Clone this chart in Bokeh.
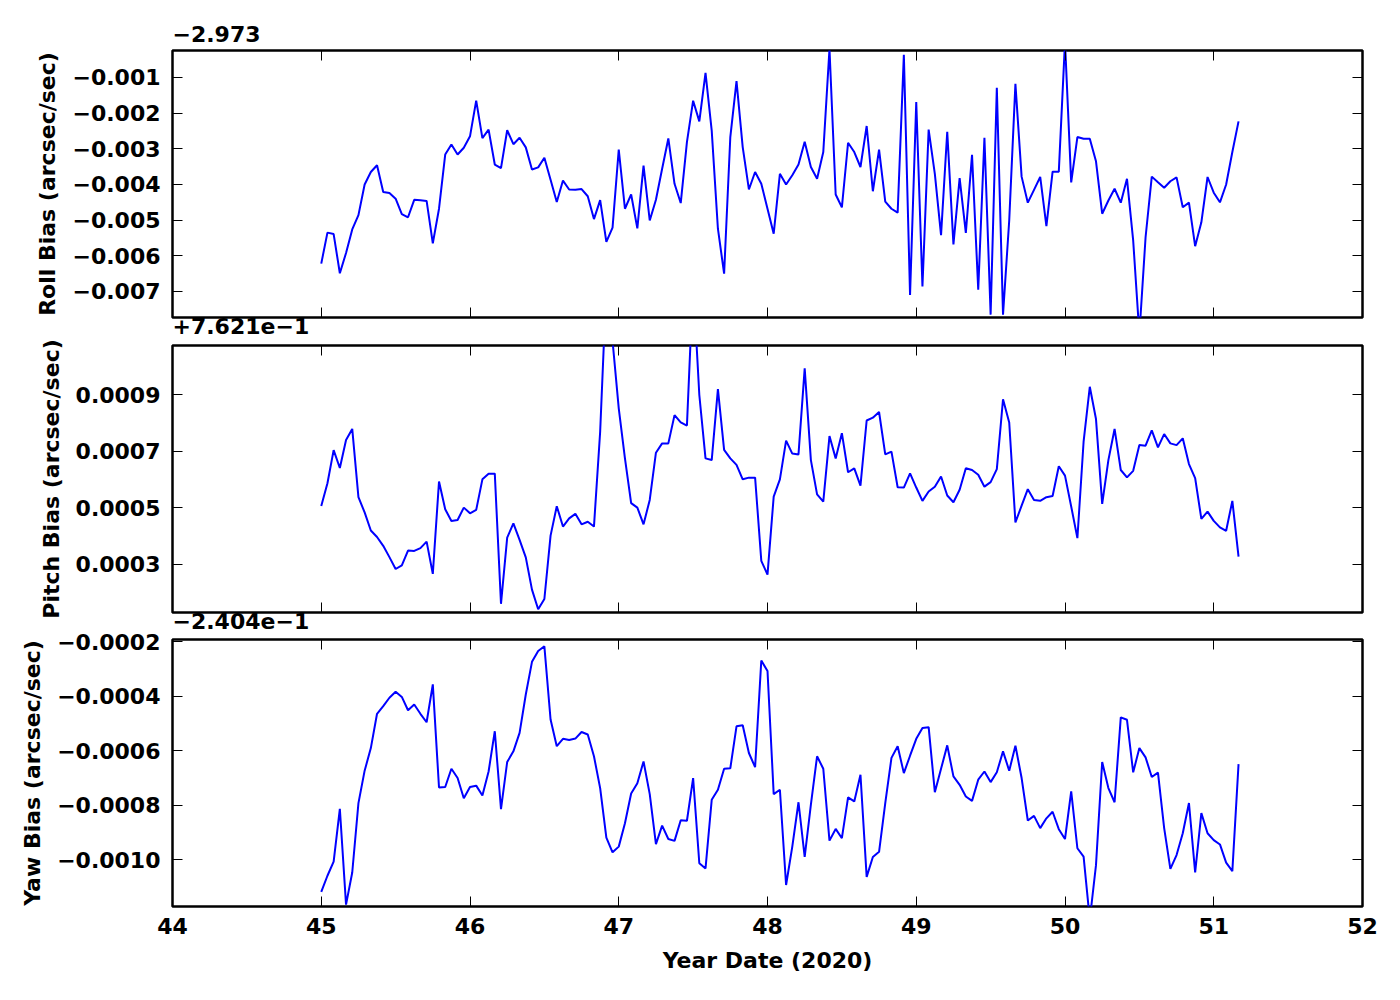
import numpy as np
from bokeh.plotting import figure
from bokeh.layouts import column
from bokeh.models import Range1d, FixedTicker, LinearAxis, CustomJSTickFormatter, Title
from bokeh.embed import file_html
from bokeh.resources import INLINE

# ---------------- data (hourly samples, values shown relative to the axis offsets) ----------------
start_day = 45.0
roll_offset_text = "\u22122.973"
pitch_offset_text = "+7.621e\u22121"
yaw_offset_text = "\u22122.404e\u22121"

# Roll bias minus offset, in units of 1e-3 arcsec/sec
roll_bias_e3 = [
    -6.22, -5.35, -5.39, -6.49, -5.92, -5.26, -4.86, -4.00, -3.65, -3.46,
    -4.21, -4.24, -4.40, -4.83, -4.92, -4.43, -4.44, -4.46, -5.65, -4.68,
    -3.16, -2.88, -3.16, -2.97, -2.65, -1.65, -2.70, -2.46, -3.44, -3.54,
    -2.48, -2.87, -2.69, -2.96, -3.58, -3.52, -3.25, -3.87, -4.49, -3.89,
    -4.14, -4.15, -4.13, -4.33, -4.97, -4.44, -5.61, -5.21, -3.02, -4.68,
    -4.28, -5.23, -3.47, -5.01, -4.43, -3.56, -2.71, -3.98, -4.52, -2.81,
    -1.65, -2.23, -0.87, -2.49, -5.24, -6.50, -2.67, -1.10, -2.95, -4.14,
    -3.65, -3.98, -4.68, -5.38, -3.70, -4.00, -3.74, -3.44, -2.80, -3.51,
    -3.84, -3.09, -0.20, -4.28, -4.64, -2.83, -3.09, -3.51, -2.36, -4.19,
    -3.02, -4.48, -4.68, -4.79, -0.36, -7.10, -1.69, -6.86, -2.46, -3.70,
    -5.42, -2.52, -5.68, -3.82, -5.36, -3.17, -6.95, -2.69, -7.65, -1.29,
    -7.65, -5.01, -1.18, -3.78, -4.51, -4.15, -3.79, -5.17, -3.64, -3.64,
    0.00, -3.94, -2.67, -2.72, -2.72, -3.35, -4.82, -4.45, -4.12, -4.51,
    -3.84, -5.57, -8.20, -5.48, -3.78, -3.94, -4.09, -3.91, -3.80, -4.64,
    -4.51, -5.73, -5.06, -3.79, -4.23, -4.50, -4.00, -3.09, -2.23,
]

# Pitch bias minus offset, in units of 1e-4 arcsec/sec
pitch_bias_e4 = [
    5.07, 5.87, 7.04, 6.41, 7.40, 7.79, 5.38, 4.84, 4.20, 3.97,
    3.66, 3.26, 2.84, 2.97, 3.49, 3.48, 3.58, 3.81, 2.67, 5.93,
    4.95, 4.54, 4.57, 5.01, 4.81, 4.93, 6.01, 6.21, 6.21, 1.61,
    3.95, 4.45, 3.87, 3.25, 2.11, 1.42, 1.78, 4.02, 5.06, 4.34,
    4.63, 4.79, 4.42, 4.51, 4.34, 7.69, 12.9, 10.9, 8.52, 6.75,
    5.17, 5.01, 4.42, 5.28, 6.95, 7.28, 7.28, 8.28, 8.02, 7.91,
    13.0, 8.99, 6.75, 6.69, 9.20, 7.05, 6.75, 6.52, 6.01, 6.07,
    6.07, 3.13, 2.64, 5.40, 6.01, 7.38, 6.92, 6.89, 9.93, 6.69,
    5.48, 5.22, 7.54, 6.75, 7.64, 6.26, 6.40, 5.79, 8.09, 8.19,
    8.39, 6.89, 6.99, 5.73, 5.72, 6.22, 5.72, 5.25, 5.58, 5.75,
    6.11, 5.44, 5.20, 5.64, 6.40, 6.34, 6.17, 5.75, 5.91, 6.37,
    8.84, 8.02, 4.49, 5.08, 5.66, 5.28, 5.25, 5.38, 5.42, 6.47,
    6.14, 5.05, 3.93, 7.34, 9.28, 8.14, 5.14, 6.69, 7.79, 6.34,
    6.08, 6.31, 7.22, 7.20, 7.74, 7.14, 7.61, 7.28, 7.22, 7.46,
    6.55, 6.05, 4.61, 4.87, 4.54, 4.31, 4.19, 5.25, 3.28,
]

# Yaw bias minus offset, in units of 1e-4 arcsec/sec
yaw_bias_e4 = [
    -11.18, -10.59, -10.07, -8.13, -11.65, -10.47, -7.92, -6.73, -5.90, -4.64,
    -4.36, -4.05, -3.83, -4.02, -4.51, -4.30, -4.64, -4.95, -3.56, -7.35,
    -7.33, -6.66, -7.00, -7.74, -7.33, -7.28, -7.64, -6.76, -5.28, -8.14,
    -6.41, -6.02, -5.34, -3.93, -2.73, -2.33, -2.16, -4.85, -5.83, -5.56,
    -5.60, -5.55, -5.31, -5.40, -6.20, -7.37, -9.19, -9.73, -9.52, -8.66,
    -7.57, -7.19, -6.39, -7.59, -9.43, -8.75, -9.24, -9.31, -8.55, -8.57,
    -7.00, -10.13, -10.32, -7.80, -7.43, -6.66, -6.64, -5.10, -5.06, -6.08,
    -6.60, -2.68, -3.07, -7.59, -7.43, -10.93, -9.52, -7.89, -9.90, -7.98,
    -6.20, -6.66, -9.30, -8.87, -9.21, -7.71, -7.86, -6.88, -10.63, -9.90,
    -9.71, -7.92, -6.26, -5.83, -6.82, -6.18, -5.56, -5.16, -5.13, -7.52,
    -6.66, -5.80, -6.94, -7.25, -7.68, -7.84, -7.06, -6.76, -7.15, -6.79,
    -6.02, -6.73, -5.81, -7.00, -8.56, -8.39, -8.84, -8.48, -8.24, -8.88,
    -9.24, -7.49, -9.58, -9.89, -12.20, -10.20, -6.41, -7.37, -7.89, -4.77,
    -4.86, -6.79, -5.90, -6.24, -6.96, -6.80, -8.84, -10.34, -9.83, -9.03,
    -7.92, -10.47, -8.29, -9.03, -9.28, -9.44, -10.11, -10.42, -6.49,
]

x_ticks = [44, 45, 46, 47, 48, 49, 50, 51, 52]
roll_ticks = [-0.007, -0.006, -0.005, -0.004, -0.003, -0.002, -0.001]
pitch_ticks = [0.0003, 0.0005, 0.0007, 0.0009]
yaw_ticks = [-0.0010, -0.0008, -0.0006, -0.0004, -0.0002]

roll_bias = np.array(roll_bias_e3) * 1e-3
pitch_bias = np.array(pitch_bias_e4) * 1e-4
yaw_bias = np.array(yaw_bias_e4) * 1e-4
year_date = start_day + np.arange(len(roll_bias)) / 24.0

# ---------------- styling ----------------
FONT = "DejaVu Sans"
FS = "22px"
W = 1384
FRAME_LEFT, FRAME_RIGHT = 172, 1362


def style_axis(ax, ticks, show_labels, fmt=None):
    ax.ticker = FixedTicker(ticks=ticks)
    ax.major_tick_in = 10
    ax.major_tick_out = 0
    ax.minor_tick_in = 0
    ax.minor_tick_out = 0
    ax.major_tick_line_color = "black"
    ax.major_tick_line_width = 1
    ax.axis_line_color = None
    if show_labels:
        ax.major_label_text_font = FONT
        ax.major_label_text_font_size = FS
        ax.major_label_text_font_style = "bold"
        ax.major_label_text_color = "black"
        if fmt is not None:
            ax.formatter = fmt
    else:
        ax.major_label_text_font_size = "0px"
        ax.major_label_standoff = 0


def offset_title(text, valign, standoff):
    # matplotlib-style axis offset text, left aligned with the frame
    return Title(text=text, align="left", offset=0, standoff=standoff, vertical_align=valign,
                 text_font=FONT, text_font_size=FS, text_font_style="bold",
                 text_color="black")


def make_panel(height, top, bottom, x, y, yr, yticks, decimals, ylabel,
               top_text, bottom_text, is_last):
    p = figure(width=W, height=height, x_range=Range1d(44, 52), y_range=Range1d(*yr),
               output_backend="svg", toolbar_location=None,
               min_border_left=FRAME_LEFT, min_border_right=W - FRAME_RIGHT,
               min_border_top=top, min_border_bottom=bottom)
    p.grid.visible = False
    p.outline_line_color = "black"
    p.outline_line_width = 2.5
    p.background_fill_color = "white"
    p.border_fill_color = "white"

    yfmt = CustomJSTickFormatter(args=dict(d=decimals), code="""
        var s = Math.abs(tick).toFixed(d);
        return (tick < 0 ? '\\u2212' : '') + s;
    """)

    # left axis
    ya = p.yaxis[0]
    style_axis(ya, yticks, True, yfmt)
    ya.major_label_standoff = 12
    ya.axis_label = ylabel
    ya.axis_label_text_font = FONT
    ya.axis_label_text_font_size = FS
    ya.axis_label_text_font_style = "bold"
    ya.axis_label_text_color = "black"
    ya.axis_label_standoff = 9

    # bottom axis
    xa = p.xaxis[0]
    if is_last:
        style_axis(xa, x_ticks, True)
        xa.major_label_standoff = 11
        xa.axis_label = "Year Date (2020)"
        xa.axis_label_text_font = FONT
        xa.axis_label_text_font_size = FS
        xa.axis_label_text_font_style = "bold"
        xa.axis_label_text_color = "black"
        xa.axis_label_standoff = 11
    else:
        style_axis(xa, x_ticks, False)

    # mirrored ticks on top and right
    top_ax = LinearAxis()
    style_axis(top_ax, x_ticks, False)
    p.add_layout(top_ax, "above")
    right_ax = LinearAxis()
    style_axis(right_ax, yticks, False)
    p.add_layout(right_ax, "right")

    # offset texts: above this frame, or just below it (belonging to the next panel)
    if top_text:
        p.add_layout(offset_title(top_text, "bottom", 17), "above")
    if bottom_text:
        p.add_layout(offset_title(bottom_text, "top", 0), "below")

    p.line(x, y, line_color="#0000ff", line_width=2)
    return p


p1 = make_panel(337, 50, 20, year_date, roll_bias, (-0.00773, -0.000243), roll_ticks, 3,
                "Roll Bias (arcsec/sec)", roll_offset_text, pitch_offset_text, False)
p2 = make_panel(295, 8, 20, year_date, pitch_bias, (0.0001303, 0.001074), pitch_ticks, 4,
                "Pitch Bias (arcsec/sec)", None, yaw_offset_text, False)
p3 = make_panel(350, 7, 76, year_date, yaw_bias, (-0.001172, -0.000191), yaw_ticks, 4,
                "Yaw Bias (arcsec/sec)", None, None, True)

layout = column(p1, p2, p3, spacing=0)

with open("out.html", "w") as f:
    f.write(file_html(layout, INLINE))
